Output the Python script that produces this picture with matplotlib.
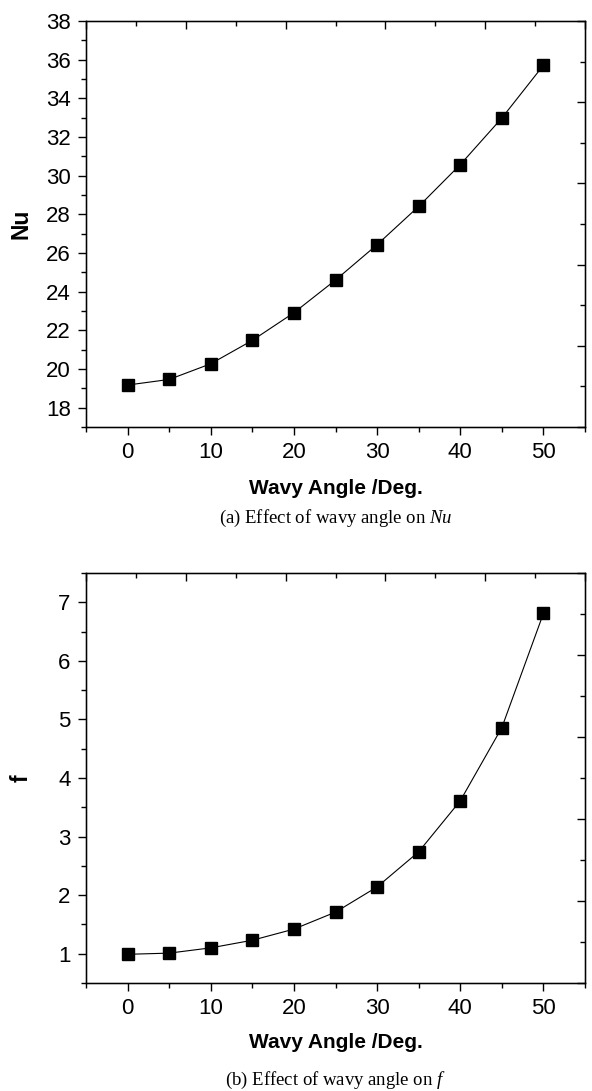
import matplotlib
matplotlib.use("Agg")
import matplotlib.pyplot as plt
from matplotlib.ticker import MultipleLocator, NullFormatter

plt.rcParams['font.family'] = ['Liberation Sans', 'DejaVu Sans']
plt.rcParams['mathtext.fontset'] = 'custom'
plt.rcParams['mathtext.it'] = 'Liberation Serif:italic'
plt.rcParams['mathtext.rm'] = 'Liberation Serif'

angle = [0, 5, 10, 15, 20, 25, 30, 35, 40, 45, 50]
nu = [19.17, 19.46, 20.27, 21.48, 22.91, 24.60, 26.43, 28.41, 30.57, 32.98, 35.71]
f_vals = [0.99, 1.01, 1.10, 1.23, 1.42, 1.71, 2.14, 2.74, 3.61, 4.86, 6.81]

W, H = 592, 1091
fig = plt.figure(figsize=(W / 100, H / 100), dpi=100)


def px_axes(left, right, top, bottom):
    return fig.add_axes([left / W, 1 - bottom / H, (right - left) / W, (bottom - top) / H])


def style_axes(ax, ylim, ymaj, ymin, ylabel):
    ax.set_xlim(-5, 55)
    ax.set_ylim(*ylim)
    ax.xaxis.set_major_locator(MultipleLocator(10))
    ax.xaxis.set_minor_locator(MultipleLocator(5))
    ax.yaxis.set_major_locator(MultipleLocator(ymaj))
    ax.yaxis.set_minor_locator(MultipleLocator(ymin))
    ax.tick_params(which='major', direction='out', length=6, width=1, labelsize=16, pad=5,
                   top=False, right=False)
    ax.tick_params(which='minor', direction='out', length=3.5, width=1, top=False, right=False)
    for s in ax.spines.values():
        s.set_linewidth(1)
    ax.set_xlabel('Wavy Angle /Deg.', fontsize=15, fontweight='bold')
    ax.set_ylabel(ylabel, fontsize=16.5, fontweight='bold')
    ax.yaxis.set_label_coords(-0.107, 0.5)

    # top and right axes: independent 5-division scales, inward ticks
    top = ax.twiny()
    top.set_xlim(0, 1)
    top.xaxis.set_major_locator(MultipleLocator(0.2))
    top.xaxis.set_minor_locator(MultipleLocator(0.1))
    top.xaxis.set_major_formatter(NullFormatter())
    top.tick_params(which='major', direction='in', length=6, width=1)
    top.tick_params(which='minor', direction='in', length=3.5, width=1)
    right = ax.twinx()
    right.set_ylim(0, 1)
    right.yaxis.set_major_locator(MultipleLocator(0.2))
    right.yaxis.set_minor_locator(MultipleLocator(0.1))
    right.yaxis.set_major_formatter(NullFormatter())
    right.tick_params(which='major', direction='in', length=6, width=1)
    right.tick_params(which='minor', direction='in', length=3.5, width=1)


ax1 = px_axes(86, 585, 21, 427)
ax1.plot(angle, nu, color='black', lw=0.8, marker='s', ms=8, mfc='black', mec='black', zorder=3)
style_axes(ax1, (17, 38), 2, 1, 'Nu')
ax1.xaxis.set_label_coords(0.5, -0.128)

ax2 = px_axes(86, 585, 573, 983)
ax2.plot(angle, f_vals, color='black', lw=0.8, marker='s', ms=8, mfc='black', mec='black', zorder=3)
style_axes(ax2, (0.5, 7.5), 1, 0.5, 'f')
ax2.xaxis.set_label_coords(0.5, -0.121)

cx = (86 + 585) / 2 / W
fig.text(cx, 1 - 518 / H, r'(a) Effect of wavy angle on $Nu$', ha='center', va='center',
         fontsize=13.5, family='Liberation Serif')
fig.text(cx, 1 - 1080 / H, r'(b) Effect of wavy angle on $f$', ha='center', va='center',
         fontsize=13.5, family='Liberation Serif')

fig.savefig('out.png', dpi=100)
